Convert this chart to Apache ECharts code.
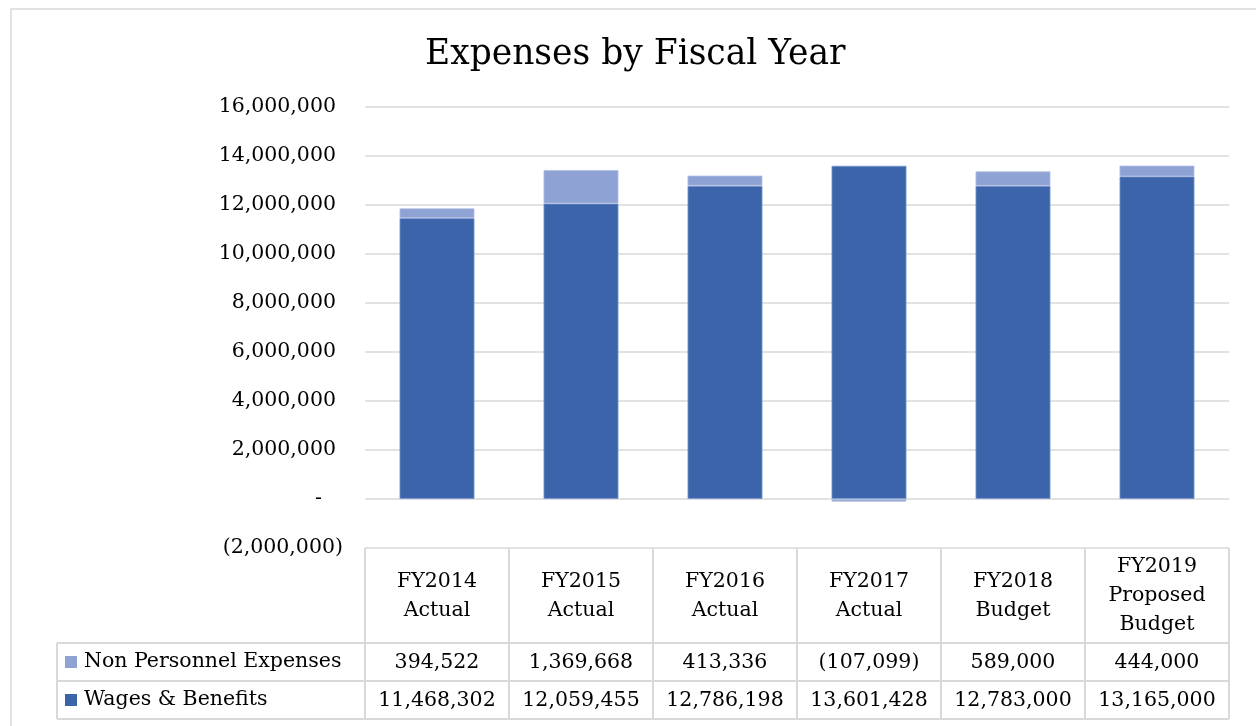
<!DOCTYPE html>
<html>
<head>
<meta charset="utf-8">
<script src="https://cdn.jsdelivr.net/npm/echarts@6/dist/echarts.min.js"></script>
<style>
html,body{margin:0;padding:0;background:#fff;}
#chart{width:1256px;height:726px;}
</style>
</head>
<body>
<div id="chart"></div>
<script>
var categories = ['FY2014\nActual', 'FY2015\nActual', 'FY2016\nActual', 'FY2017\nActual', 'FY2018\nBudget', 'FY2019\nProposed\nBudget'];
var nonPersonnel = [394522, 1369668, 413336, -107099, 589000, 444000];
var wages = [11468302, 12059455, 12786198, 13601428, 12783000, 13165000];
var seriesNames = ['Non Personnel Expenses', 'Wages & Benefits'];
var yMin = -2000000, yMax = 16000000, yStep = 2000000;

var FONT = 'DejaVu Serif';
var FS = 20.5;
var GRID_LEFT = 365, GRID_RIGHT = 27, GRID_TOP = 107, GRID_BOTTOM = 178;
var W = 1256, H = 726;
var GRAY = '#d9d9d9';

function fmt(v) {
  var s = Math.abs(v).toLocaleString('en-US');
  return v < 0 ? '(' + s + ')' : s;
}

var chart = echarts.init(document.getElementById('chart'));
var gridBottomY = H - GRID_BOTTOM;
var tableLeft = 57, tableRight = W - GRID_RIGHT;
var rowLines = [95, 133, 171];

var graphics = [
  {type: 'rect', shape: {x: 11, y: 9, width: 1400, height: 900}, style: {fill: 'none', stroke: GRAY, lineWidth: 1.5}, silent: true},
  {type: 'line', shape: {x1: tableLeft, y1: gridBottomY + rowLines[0], x2: tableLeft, y2: gridBottomY + rowLines[2]}, style: {stroke: GRAY, lineWidth: 2}}
];
rowLines.forEach(function (o) {
  graphics.push({type: 'line', shape: {x1: tableLeft, y1: gridBottomY + o, x2: tableRight, y2: gridBottomY + o}, style: {stroke: GRAY, lineWidth: 2}});
});

var option = {
  backgroundColor: '#fff',
  animation: false,
  title: {
    text: 'Expenses by Fiscal Year',
    left: 425,
    top: 38,
    padding: 0,
    textStyle: {fontFamily: FONT, fontSize: 34.5, fontWeight: 'normal', color: '#000'}
  },
  legend: {
    orient: 'vertical',
    left: 65,
    top: 650,
    padding: 0,
    itemGap: 14,
    itemWidth: 12,
    itemHeight: 12,
    icon: 'rect',
    data: seriesNames,
    itemStyle: {borderWidth: 0},
    textStyle: {fontFamily: FONT, fontSize: FS, color: '#000', lineHeight: 24, padding: [0, 0, 0, 2]}
  },
  grid: {left: GRID_LEFT, right: GRID_RIGHT, top: GRID_TOP, bottom: GRID_BOTTOM, containLabel: false},
  xAxis: [
    {
      type: 'category', data: categories, position: 'bottom',
      axisLine: {show: false, onZero: false},
      axisTick: {show: true, length: 171, lineStyle: {color: GRAY, width: 2}},
      axisLabel: {interval: 0, margin: 48, verticalAlign: 'middle', lineHeight: 29, fontFamily: FONT, fontSize: FS, color: '#000'}
    },
    {
      type: 'category', data: categories, position: 'bottom', offset: 95,
      axisLine: {show: false, onZero: false}, axisTick: {show: false},
      axisLabel: {interval: 0, margin: 20, verticalAlign: 'middle', fontFamily: FONT, fontSize: FS, color: '#000',
        formatter: function (v, i) { return fmt(nonPersonnel[i]); }}
    },
    {
      type: 'category', data: categories, position: 'bottom', offset: 133,
      axisLine: {show: false, onZero: false}, axisTick: {show: false},
      axisLabel: {interval: 0, margin: 20, verticalAlign: 'middle', fontFamily: FONT, fontSize: FS, color: '#000',
        formatter: function (v, i) { return fmt(wages[i]); }}
    }
  ],
  yAxis: {
    type: 'value', min: yMin, max: yMax, interval: yStep,
    axisLine: {show: false}, axisTick: {show: false},
    splitLine: {show: true, lineStyle: {color: GRAY, width: 1.5}},
    axisLabel: {
      margin: 22, fontFamily: FONT, fontSize: FS, color: '#000',
      formatter: function (v) {
        if (v === 0) return '{z|-}';
        if (v < 0) return '{n|' + fmt(v) + '}';
        return '{p|' + fmt(v) + '}';
      },
      rich: {
        z: {fontFamily: FONT, fontSize: FS, color: '#000', padding: [0, 21, 0, 0]},
        n: {fontFamily: FONT, fontSize: FS, color: '#000'},
        p: {fontFamily: FONT, fontSize: FS, color: '#000', padding: [0, 7, 0, 0]}
      }
    }
  },
  series: [
    {
      name: seriesNames[1], type: 'bar', stack: 'total', data: wages, barWidth: '52%',
      itemStyle: {color: '#3C64AA', borderColor: '#7d97cf', borderWidth: 0.8}
    },
    {
      name: seriesNames[0], type: 'bar', stack: 'total', data: nonPersonnel, barWidth: '52%',
      itemStyle: {color: '#8FA2D4', borderColor: '#b3c1e3', borderWidth: 0.8}
    }
  ],
  graphic: graphics
};
chart.setOption(option);
</script>
</body>
</html>
